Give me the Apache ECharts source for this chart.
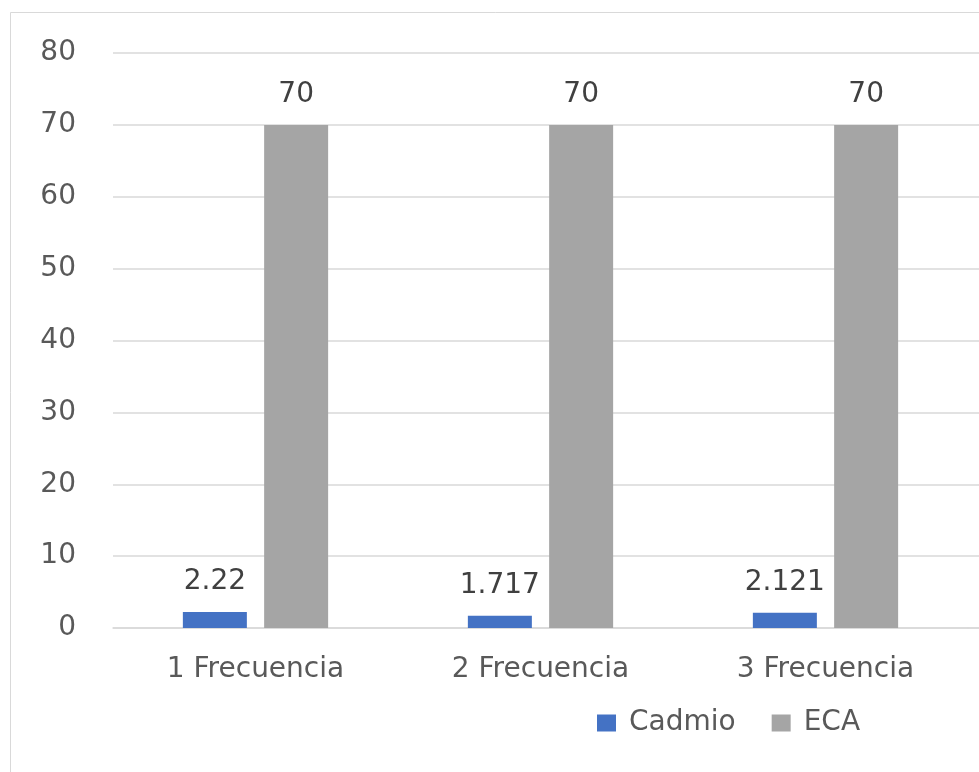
<!DOCTYPE html>
<html>
<head>
<meta charset="utf-8">
<script src="https://cdn.jsdelivr.net/npm/echarts@6/dist/echarts.min.js"></script>
<style>
  html, body { margin: 0; padding: 0; background: #ffffff; }
  #chart { width: 979px; height: 772px; }
</style>
</head>
<body>
<div id="chart"></div>
<script>
// Cadmium readings per sampling round against the ECA reference value
const categories = ['1 Frecuencia', '2 Frecuencia', '3 Frecuencia'];
const cadmio = [2.22, 1.717, 2.121];
const eca = [70, 70, 70];
const yTicks = { min: 0, max: 80, interval: 10 };

const textColor = '#595959';
const gridColor = '#d9d9d9';
const fontFamily = '"DejaVu Sans", Verdana, sans-serif';
const fontSize = 28;

const chart = echarts.init(document.getElementById('chart'), null, { renderer: 'canvas' });

chart.setOption({
  animation: false,
  backgroundColor: '#ffffff',
  textStyle: { fontFamily: fontFamily },
  graphic: [{
    type: 'rect',
    silent: true,
    z: -10,
    shape: { x: 10.5, y: 12.5, width: 2000, height: 2000 },
    style: { fill: 'none', stroke: gridColor, lineWidth: 1 }
  }],
  legend: {
    data: ['Cadmio', 'ECA'],
    left: 592,
    top: 704,
    itemWidth: 19,
    itemHeight: 17,
    itemGap: 36,
    icon: 'rect',
    textStyle: { color: textColor, fontSize: fontSize, fontFamily: fontFamily, padding: [0, 0, 0, 8] }
  },
  grid: [
    { left: 113, top: 53, width: 855, height: 575 },
    { left: 968, top: 53, width: 20, height: 575 }
  ],
  xAxis: [{
    type: 'category',
    gridIndex: 0,
    data: categories,
    axisLine: { lineStyle: { color: gridColor, width: 1.5 } },
    axisTick: { show: false },
    axisLabel: { color: textColor, fontSize: fontSize, fontFamily: fontFamily, margin: 28 }
  }, {
    type: 'category',
    gridIndex: 1,
    data: [''],
    axisLine: { lineStyle: { color: gridColor, width: 1.5 } },
    axisTick: { show: false },
    axisLabel: { show: false }
  }],
  yAxis: [{
    type: 'value',
    gridIndex: 0,
    min: yTicks.min,
    max: yTicks.max,
    interval: yTicks.interval,
    axisLine: { show: false },
    axisTick: { show: false },
    splitLine: { lineStyle: { color: gridColor, width: 1.5 } },
    axisLabel: { color: textColor, fontSize: fontSize, fontFamily: fontFamily, margin: 37 }
  }, {
    type: 'value',
    gridIndex: 1,
    min: yTicks.min,
    max: yTicks.max,
    interval: yTicks.interval,
    axisLine: { show: false },
    axisTick: { show: false },
    splitLine: { lineStyle: { color: gridColor, width: 1.5 } },
    axisLabel: { show: false }
  }],
  series: [{
    name: 'Cadmio',
    type: 'bar',
    xAxisIndex: 0,
    yAxisIndex: 0,
    data: cadmio,
    barWidth: 64,
    barGap: '27%',
    itemStyle: { color: '#4472C4' },
    label: {
      show: true,
      position: 'top',
      distance: 16,
      color: '#404040',
      fontSize: fontSize,
      fontFamily: fontFamily
    }
  }, {
    name: 'ECA',
    type: 'bar',
    xAxisIndex: 0,
    yAxisIndex: 0,
    data: eca,
    barWidth: 64,
    barGap: '27%',
    itemStyle: { color: '#A5A5A5' },
    label: {
      show: true,
      position: 'top',
      distance: 16,
      color: '#404040',
      fontSize: fontSize,
      fontFamily: fontFamily
    }
  }]
});
</script>
</body>
</html>
